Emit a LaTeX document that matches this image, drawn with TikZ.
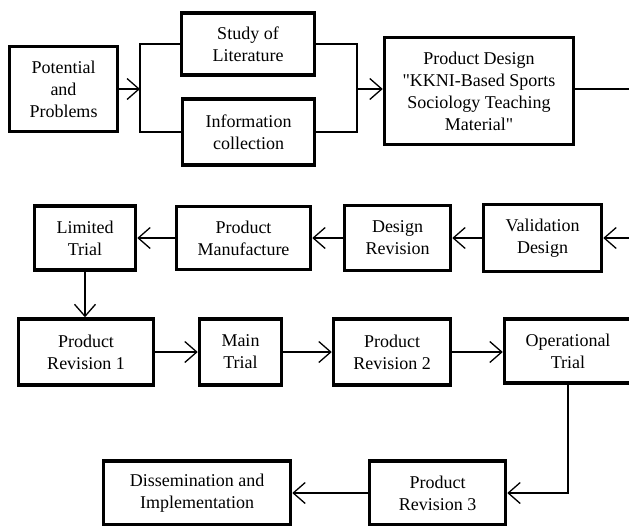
\documentclass[tikz,border=0pt]{standalone}
\usepackage{fontspec}
\setmainfont{Liberation Serif}[Ligatures=TeXOff]
\usetikzlibrary{arrows.meta}

\tikzset{
  stage/.style={draw, line width=3.5pt, align=center, inner sep=2pt,
    font=\fontsize{18}{22}\selectfont},
  flow/.style={line width=1.3pt, -{Straight Barb[length=12pt,width=21pt,line width=1.3pt]}},
  link/.style={line width=1.3pt}
}

\begin{document}
\begin{tikzpicture}[x=1pt, y=-1pt]
\useasboundingbox (0,0) rectangle (629,525);

\node[stage, minimum width=108, minimum height=85] (pot) at (63.5,89) {Potential\\and\\Problems};
\node[stage, minimum width=133, minimum height=62] (lit) at (248,44) {Study of\\Literature};
\node[stage, minimum width=132, minimum height=66] (info) at (248.5,132) {Information\\collection};
\node[stage, minimum width=189, minimum height=107] (des) at (479,91)
  {Product Design\\"KKNI-Based Sports\\Sociology Teaching\\Material"};

\node[stage, minimum width=118, minimum height=67] (val) at (542.5,238) {Validation\\Design};
\node[stage, minimum width=106, minimum height=65] (drev) at (397.5,238) {Design\\Revision};
\node[stage, minimum width=134, minimum height=63] (manu) at (243.5,238) {Product\\Manufacture};
\node[stage, minimum width=101, minimum height=64] (lim) at (85,238) {Limited\\Trial};

\node[stage, minimum width=135, minimum height=66] (rev1) at (86,352) {Product\\Revision 1};
\node[stage, minimum width=82, minimum height=66] (main) at (240.5,352) {Main\\Trial};
\node[stage, minimum width=117, minimum height=66] (rev2) at (392,352) {Product\\Revision 2};
\node[stage, minimum width=127, minimum height=64] (op) at (568,351) {Operational\\Trial};

\node[stage, minimum width=136, minimum height=64] (rev3) at (437.5,493) {Product\\Revision 3};
\node[stage, minimum width=187, minimum height=64] (diss) at (197,493) {Dissemination and\\Implementation};

\path (140,89) coordinate (bl);
\path (357,89) coordinate (br);
\path (640,89) coordinate (outR);
\path (640,238) coordinate (inR);

\draw[flow] (pot) -- (bl);
\draw[link] (lit.west) -| (bl) |- (info.west);
\draw[link] (lit.east) -| (br) |- (info.east);
\draw[flow] (br) -- (br -| des.west);
\draw[link] (des.east |- outR) -- (outR);

\draw[flow] (inR) -- (val.east);
\draw[flow] (val) -- (drev);
\draw[flow] (drev) -- (manu);
\draw[flow] (manu) -- (lim);
\draw[flow] (lim.south) -- (lim.south |- rev1.north);

\draw[flow] (rev1) -- (main);
\draw[flow] (main) -- (rev2);
\draw[flow] (rev2) -- (rev2 -| op.west);
\draw[flow] (op.south) |- (rev3.east);
\draw[flow] (rev3) -- (diss);
\end{tikzpicture}
\end{document}
